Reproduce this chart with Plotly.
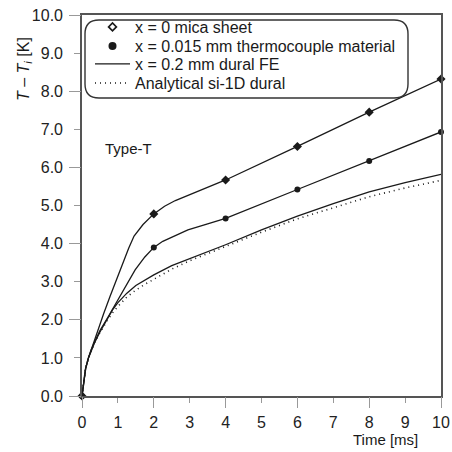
import plotly.graph_objects as go

# ---------------- data ----------------
mica_t = [0, 0.05, 0.1, 0.18, 0.25, 0.35, 0.45, 0.6, 0.78, 0.95, 1.15, 1.3, 1.45, 1.7, 2.0,
          2.3, 2.6, 3.0, 3.5, 4.0, 6.0, 8.0, 10.0]
mica_T = [0, 0.45, 0.72, 1.0, 1.2, 1.47, 1.73, 2.15, 2.61, 3.04, 3.53, 3.88, 4.2, 4.5, 4.78,
          4.98, 5.13, 5.28, 5.47, 5.67, 6.55, 7.45, 8.32]
mica_mark_t = [0, 2, 4, 6, 8, 10]
mica_mark_T = [0, 4.78, 5.67, 6.55, 7.45, 8.32]

tc_t = [0, 0.05, 0.1, 0.18, 0.25, 0.35, 0.5, 0.73, 0.9, 1.06, 1.25, 1.48, 1.75, 2.0, 2.25,
        2.5, 2.95, 3.5, 4.0, 6.0, 8.0, 10.0]
tc_T = [0, 0.45, 0.72, 1.0, 1.2, 1.42, 1.72, 2.08, 2.36, 2.61, 2.93, 3.31, 3.65, 3.9, 4.06,
        4.17, 4.36, 4.52, 4.66, 5.42, 6.17, 6.93]
tc_mark_t = [0, 2, 4, 6, 8, 10]
tc_mark_T = [0, 3.9, 4.66, 5.42, 6.17, 6.93]

fe_t = [0, 0.05, 0.1, 0.18, 0.25, 0.35, 0.5, 0.7, 0.85, 1.0, 1.25, 1.5, 1.75, 2.0, 2.5, 3.0,
        4.0, 5.0, 6.0, 7.0, 8.0, 9.0, 10.0]
fe_T = [0, 0.45, 0.72, 1.0, 1.17, 1.4, 1.68, 2.02, 2.26, 2.45, 2.7, 2.9, 3.05, 3.18, 3.42,
        3.6, 3.97, 4.36, 4.72, 5.05, 5.36, 5.6, 5.82]

an_t = [0, 0.05, 0.1, 0.18, 0.25, 0.35, 0.5, 0.7, 0.85, 1.0, 1.25, 1.5, 1.75, 2.0, 2.5, 3.0,
        4.0, 5.0, 6.0, 7.0, 8.0, 9.0, 10.0]
an_T = [0, 0.45, 0.72, 1.0, 1.17, 1.4, 1.66, 1.98, 2.18, 2.35, 2.6, 2.78, 2.93, 3.07, 3.33,
        3.55, 3.93, 4.3, 4.65, 4.95, 5.23, 5.46, 5.66]

x_ticks = list(range(0, 11))
x_major = [0, 2, 4, 6, 8, 10]
y_ticks = list(range(0, 11))
y_major = [0, 2, 4, 6, 8, 10]

legend_names = ["x = 0 mica sheet", "x = 0.015 mm thermocouple material",
                "x = 0.2 mm dural FE", "Analytical si-1D dural"]

# ---------------- figure ----------------
W, H = 452, 452
ML, MR, MT, MB = 82, 11, 15, 56
PW, PH = W - ML - MR, H - MT - MB
FONT = "Liberation Sans, Arial, Helvetica, sans-serif"
INK = "#1a1a1a"
DOTS = "1px,4px"

def px2paper(px, py):
    return (px - ML) / PW, (H - MB - py) / PH

fig = go.Figure()

line_style = dict(color=INK, width=1.3)
fig.add_trace(go.Scatter(x=an_t, y=an_T, mode="lines", line=dict(color=INK, width=1.6, dash=DOTS),
                         showlegend=False, hoverinfo="skip"))
fig.add_trace(go.Scatter(x=fe_t, y=fe_T, mode="lines", line=line_style,
                         showlegend=False, hoverinfo="skip"))
fig.add_trace(go.Scatter(x=tc_t, y=tc_T, mode="lines", line=line_style,
                         showlegend=False, hoverinfo="skip"))
fig.add_trace(go.Scatter(x=mica_t, y=mica_T, mode="lines", line=line_style,
                         showlegend=False, hoverinfo="skip"))
fig.add_trace(go.Scatter(x=tc_mark_t, y=tc_mark_T, mode="markers",
                         marker=dict(symbol="circle", size=6, color=INK), cliponaxis=False,
                         showlegend=False, hoverinfo="skip"))
fig.add_trace(go.Scatter(x=mica_mark_t, y=mica_mark_T, mode="markers",
                         marker=dict(symbol="diamond", size=7, color=INK), cliponaxis=False,
                         showlegend=False, hoverinfo="skip"))

# legend-only entries, one legend per row so the row pitch matches the reference
fig.add_trace(go.Scatter(x=[None], y=[None], mode="markers", name=legend_names[0], legend="legend",
                         marker=dict(symbol="diamond-open", size=6, color=INK, line=dict(width=1.7))))
fig.add_trace(go.Scatter(x=[None], y=[None], mode="markers", name=legend_names[1], legend="legend2",
                         marker=dict(symbol="circle", size=8, color=INK)))
fig.add_trace(go.Scatter(x=[None], y=[None], mode="lines", name=legend_names[2], legend="legend3",
                         line=dict(color=INK, width=1.1)))
fig.add_trace(go.Scatter(x=[None], y=[None], mode="lines", name=legend_names[3], legend="legend4",
                         line=dict(color=INK, width=1.5, dash=DOTS)))

# invisible trace carrying the long-tick overlay axes
fig.add_trace(go.Scatter(x=[0], y=[0], xaxis="x2", yaxis="y2", mode="markers",
                         marker=dict(opacity=0), showlegend=False, hoverinfo="skip"))

axis_line = "#555555"
tick_col = "#999999"

def leg(py):
    return dict(x=px2paper(90, 0)[0], y=px2paper(0, py)[1], xanchor="left", yanchor="middle",
                bgcolor="rgba(0,0,0,0)", borderwidth=0, itemwidth=35,
                font=dict(size=16, family=FONT, color=INK))

fig.update_layout(
    width=W, height=H,
    margin=dict(l=ML, r=MR, t=MT, b=MB, pad=0, autoexpand=False),
    paper_bgcolor="white", plot_bgcolor="white",
    font=dict(family=FONT, size=16, color=INK),
    showlegend=True,
    xaxis=dict(range=[0, 10], tickvals=x_ticks, ticktext=[str(v) for v in x_ticks],
               ticks="outside", ticklen=5, tickwidth=1.3, tickcolor=tick_col,
               showline=True, linecolor=axis_line, linewidth=1.6, mirror=True,
               showgrid=False, zeroline=False, ticklabelstandoff=6,
               tickfont=dict(size=16, color="#222222")),
    yaxis=dict(range=[0, 10], tickvals=y_ticks, ticktext=[f"{v:.1f}" for v in y_ticks],
               ticks="outside", ticklen=6, tickwidth=1.3, tickcolor=tick_col,
               showline=True, linecolor=axis_line, linewidth=1.6, mirror=True,
               showgrid=False, zeroline=False, ticklabelstandoff=8,
               tickfont=dict(size=16, color="#222222")),
    xaxis2=dict(range=[0, 10], overlaying="x", tickvals=x_major, ticks="outside", ticklen=11,
                tickwidth=1.3, tickcolor=tick_col, showticklabels=False, showline=False,
                showgrid=False, zeroline=False),
    yaxis2=dict(range=[0, 10], overlaying="y", tickvals=y_major, ticks="outside", ticklen=12,
                tickwidth=1.3, tickcolor=tick_col, showticklabels=False, showline=False,
                showgrid=False, zeroline=False),
    legend=leg(27), legend2=leg(46), legend3=leg(64), legend4=leg(83),
)

# rounded legend frame
x0, y0 = px2paper(85, 98)
x1, y1 = px2paper(408, 20)
rx, ry = 14 / PW, 14 / PH
path = (f"M {x0+rx},{y1} L {x1-rx},{y1} Q {x1},{y1} {x1},{y1-ry} "
        f"L {x1},{y0+ry} Q {x1},{y0} {x1-rx},{y0} L {x0+rx},{y0} "
        f"Q {x0},{y0} {x0},{y0+ry} L {x0},{y1-ry} Q {x0},{y1} {x0+rx},{y1} Z")
fig.add_shape(type="path", path=path, xref="paper", yref="paper",
              line=dict(color="#333333", width=1.4), fillcolor="rgba(0,0,0,0)")

# annotations
fig.add_annotation(x=0.58, y=6.5, xref="x", yref="y", text="Type-T", showarrow=False,
                   xanchor="left", yanchor="middle", font=dict(size=15, family=FONT, color=INK))
tx, ty = px2paper(420, 439)
fig.add_annotation(x=tx, y=ty, xref="paper", yref="paper", text="Time [ms]", showarrow=False,
                   xanchor="right", yanchor="middle", font=dict(size=15, family=FONT, color=INK))
ax_, ay_ = px2paper(25, 69)
fig.add_annotation(x=ax_, y=ay_, xref="paper", yref="paper",
                   text="<i>T</i> – <i>T</i><sub><i>i</i></sub> [K]", showarrow=False,
                   textangle=-90, xanchor="center", yanchor="middle",
                   font=dict(size=16, family=FONT, color=INK))

fig.write_html("out.html")
